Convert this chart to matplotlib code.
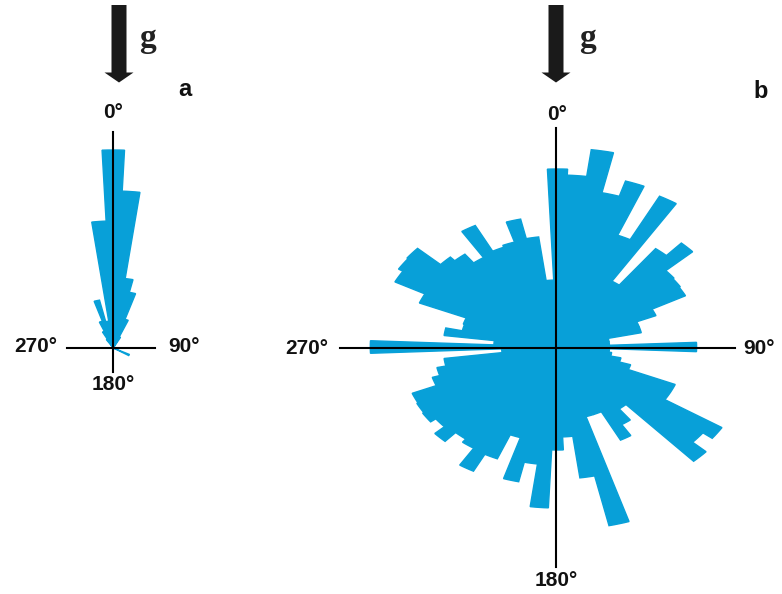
import numpy as np
import matplotlib
matplotlib.use("Agg")
import matplotlib.pyplot as plt
from matplotlib.patches import Polygon

W, H, DPI = 782, 594, 100
BLUE = "#08a0d8"

# 5-degree sectors, measured clockwise from the top (0 deg)
sector_deg = np.arange(0, 360, 5)

# panel a: sector lengths (0-85, 90-175, 180-265, 270-355)
rose_a = [
    198, 157, 70, 57, 30, 12, 0, 0, 0, 0, 0, 0, 0, 0, 0, 0, 0, 0,
    0, 0, 0, 0, 0, 0, 14, 0, 0, 0, 0, 0, 0, 0, 0, 0, 0, 0,
    0, 0, 0, 0, 0, 0, 0, 0, 0, 0, 0, 0, 0, 0, 0, 0, 0, 0,
    0, 0, 0, 0, 0, 0, 0, 0, 0, 0, 0, 0, 10, 18, 28, 49, 27, 127,
]

# panel b: sector lengths (0-85, 90-175, 180-265, 270-355)
rose_b = [
    178, 172, 199, 158, 174, 121, 170, 78, 124, 141, 113, 112, 111, 82, 66, 66, 40, 40,
    107, 40, 42, 50, 59, 98, 98, 150, 141, 155, 78, 92, 105, 73, 73, 183, 132, 90,
    103, 161, 118, 138, 95, 121, 140, 120, 116, 128, 118, 123, 122, 121, 101, 95, 88, 43,
    144, 49, 88, 75, 76, 115, 141, 145, 146, 122, 117, 106, 137, 108, 110, 131, 111, 67,
]

axis_labels = ["0°", "90°", "180°", "270°"]
panel_names = ["a", "b"]

STRETCH = 1.3   # horizontal/vertical scale of the rose plots
R_MAX = 210

fig = plt.figure(figsize=(W / DPI, H / DPI), dpi=DPI)
fig.patch.set_facecolor("white")


def rose(values, cx, cy):
    """Polar bar rose centred at pixel (cx, cy) measured from the top-left."""
    h = 2 * R_MAX
    w = 2 * R_MAX * STRETCH
    rect = [(cx - w / 2) / W, (H - cy - R_MAX) / H, w / W, h / H]
    ax = fig.add_axes(rect, projection="polar")
    ax.set_aspect("auto")
    ax.set_theta_zero_location("N")
    ax.set_theta_direction(-1)
    ax.bar(np.deg2rad(sector_deg), values, width=np.deg2rad(5), bottom=0,
           color=BLUE, edgecolor=BLUE, linewidth=1.0, joinstyle="miter",
           align="center")
    ax.set_ylim(0, R_MAX)
    ax.set_axis_off()
    return ax


rose(rose_a, 113.3, 348)
rose(rose_b, 557.5, 347)

# overlay in pixel coordinates for the cross-hairs, arrows and labels
ov = fig.add_axes([0, 0, 1, 1])
ov.set_xlim(0, W)
ov.set_ylim(H, 0)
ov.set_axis_off()
ov.patch.set_alpha(0)

LW = 1.5
# panel a cross
ov.plot([113.3, 113.3], [132, 372], color="black", lw=LW)
ov.plot([67, 155], [348, 348], color="black", lw=LW)
# panel b cross
ov.plot([556, 556], [128, 567], color="black", lw=LW)
ov.plot([340, 735], [348, 348], color="black", lw=LW)


def gravity_arrow(xc):
    shaft = 7.5
    head = 14.5
    pts = [(xc - shaft, 5), (xc + shaft, 5), (xc + shaft, 72.5),
           (xc + head, 72.5), (xc, 82.5), (xc - head, 72.5), (xc - shaft, 72.5)]
    ov.add_patch(Polygon(pts, closed=True, color="#1a1a1a", lw=0))


gravity_arrow(119)
gravity_arrow(556)

serif = dict(family="Liberation Serif", weight="bold", fontsize=24,
             ha="center", va="center", color="#222222")
ov.text(148, 39, "g", **serif)
ov.text(588, 39, "g", **serif)

sans = dict(family="Liberation Sans", weight="bold", fontsize=15,
            ha="center", va="center", color="#111111")
ov.text(113, 113, axis_labels[0], **sans)
ov.text(184, 347, axis_labels[1], **sans)
ov.text(113, 384, axis_labels[2], **sans)
ov.text(36, 347, axis_labels[3], **sans)

ov.text(557, 115, axis_labels[0], **sans)
ov.text(759, 348, axis_labels[1], **sans)
ov.text(556, 580, axis_labels[2], **sans)
ov.text(307, 348, axis_labels[3], **sans)

name = dict(family="Liberation Sans", weight="bold", fontsize=17,
            ha="center", va="center", color="#111111")
ov.text(185, 89, panel_names[0], **name)
ov.text(761, 91, panel_names[1], **name)

fig.savefig("out.png", dpi=DPI, facecolor="white")
